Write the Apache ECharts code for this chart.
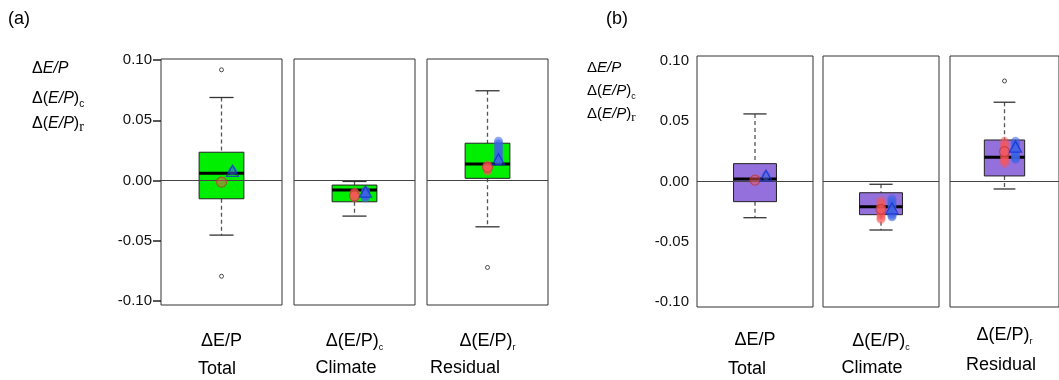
<!DOCTYPE html>
<html>
<head>
<meta charset="utf-8">
<script src="https://cdn.jsdelivr.net/npm/echarts@6/dist/echarts.min.js"></script>
<style>
html, body { margin: 0; padding: 0; background: #fff; }
#chart { width: 1059px; height: 380px; }
</style>
</head>
<body>
<div id="chart"></div>
<script>
const categories = ['ΔE/P', 'Δ(E/P)', 'Δ(E/P)'];
const subscripts = ['', 'c', 'r'];
const groupNames = ['Total', 'Climate', 'Residual'];
const yTicks = [-0.10, -0.05, 0.00, 0.05, 0.10];

// box stats per category: [min, Q1, median, Q3, max]
const boxA = [
	[-0.0454, -0.0152, 0.0060, 0.0235, 0.0690],
	[-0.0296, -0.0177, -0.0079, -0.0038, -0.0008],
	[-0.0385, 0.0018, 0.0138, 0.0310, 0.0746]
];
const outliersA = [[0.0920, -0.0796], [], [-0.0723]];
const pointsRedA = [
	[-0.0013],
	[-0.0096, -0.0105, -0.0115, -0.0127, -0.0135, -0.0143],
	[0.0129, 0.0118, 0.0108, 0.0098, 0.0088, 0.0079]
];
const pointsBlueA = [
	[0.0080],
	[-0.0085, -0.0095, -0.0105, -0.0115, -0.0125, -0.0135, -0.0143],
	[0.0327, 0.0305, 0.0285, 0.0265, 0.0245, 0.0225, 0.0205, 0.0185, 0.0170, 0.0157]
];
const meanRedA = [-0.0013, -0.0127, 0.0110];
const meanBlueA = [0.0080, -0.0093, 0.0177];

const boxB = [
	[-0.0300, -0.0167, 0.0020, 0.0148, 0.0560],
	[-0.0402, -0.0275, -0.0209, -0.0093, -0.0023],
	[-0.0062, 0.0046, 0.0200, 0.0344, 0.0657]
];
const outliersB = [[], [], [0.0833]];
const pointsRedB = [
	[0.0012],
	[-0.0159, -0.0180, -0.0200, -0.0220, -0.0240, -0.0260, -0.0280, -0.0300, -0.0313],
	[0.0333, 0.0310, 0.0290, 0.0270, 0.0250, 0.0230, 0.0210, 0.0190, 0.0170, 0.0151]
];
const pointsBlueB = [
	[0.0048],
	[-0.0145, -0.0165, -0.0185, -0.0205, -0.0225, -0.0245, -0.0265, -0.0280, -0.0292],
	[0.0333, 0.0310, 0.0290, 0.0270, 0.0250, 0.0230, 0.0210, 0.0195, 0.0184]
];
const meanRedB = [0.0012, -0.0230, 0.0247];
const meanBlueB = [0.0048, -0.0222, 0.0289];

const FONT = 'Liberation Sans';

const panels = [
	{
		box: boxA, out: outliersA, red: pointsRedA, blue: pointsBlueA, mRed: meanRedA, mBlue: meanBlueA,
		fill: '#00EE00', lefts: [161, 294, 427], width: 121, top: 59, height: 246, min: -0.1035, max: 0.101,
		axisTop: 60.2, axisHeight: 240.6, ticks: true, labelMargin: 9, xMargin: [27, 27, 27]
	},
	{
		box: boxB, out: outliersB, red: pointsRedB, blue: pointsBlueB, mRed: meanRedB, mBlue: meanBlueB,
		fill: '#9370DB', lefts: [697, 823, 950], width: 116, top: 56, height: 251, min: -0.104, max: 0.104,
		axisTop: 60.8, axisHeight: 241.3, ticks: false, labelMargin: 8, xMargin: [24, 25, 19]
	}
];

function renderBox(fill) {
	return function (params, api) {
		const c = api.value(0);
		const lo = api.coord([c, api.value(1)]);
		const q1 = api.coord([c, api.value(2)]);
		const md = api.coord([c, api.value(3)]);
		const q3 = api.coord([c, api.value(4)]);
		const hi = api.coord([c, api.value(5)]);
		const bw = api.size([1, 0])[0] * 0.37;
		const cap = bw * 0.27;
		const x = lo[0];
		const dash = { stroke: '#555', lineWidth: 1.3, lineDash: [4, 3] };
		const solid = { stroke: '#333', lineWidth: 1.3 };
		return {
			type: 'group',
			children: [
				{ type: 'line', shape: { x1: x, y1: hi[1], x2: x, y2: q3[1] }, style: dash },
				{ type: 'line', shape: { x1: x, y1: q1[1], x2: x, y2: lo[1] }, style: dash },
				{ type: 'line', shape: { x1: x - cap, y1: hi[1], x2: x + cap, y2: hi[1] }, style: solid },
				{ type: 'line', shape: { x1: x - cap, y1: lo[1], x2: x + cap, y2: lo[1] }, style: solid },
				{ type: 'rect', shape: { x: x - bw / 2, y: q3[1], width: bw, height: q1[1] - q3[1] }, style: { fill: fill, stroke: '#222', lineWidth: 1 } },
				{ type: 'line', shape: { x1: x - bw / 2, y1: md[1], x2: x + bw / 2, y2: md[1] }, style: { stroke: '#000', lineWidth: 3 } }
			]
		};
	};
}

const grid = [];
const xAxis = [];
const yAxis = [];
const series = [];

panels.forEach(function (p) {
	// axis-only grid carrying the tick labels
	const ai = grid.length;
	grid.push({ left: p.lefts[0], top: p.axisTop, width: p.width, height: p.axisHeight, show: false });
	xAxis.push({ gridIndex: ai, type: 'value', show: false });
	yAxis.push({
		gridIndex: ai, type: 'value', min: -0.1, max: 0.1, interval: 0.05,
		axisLine: { show: false },
		axisTick: { show: p.ticks, length: 8, lineStyle: { color: '#222', width: 1.5 } },
		splitLine: { show: false },
		axisLabel: {
			margin: p.labelMargin, color: '#111', fontFamily: FONT, fontSize: 15,
			formatter: function (v) { return v.toFixed(2); }
		}
	});

	for (let i = 0; i < 3; i++) {
		const gi = grid.length;
		grid.push({
			left: p.lefts[i], top: p.top, width: p.width, height: p.height,
			show: true, borderColor: '#333', borderWidth: 1, backgroundColor: 'transparent'
		});
		const sub = subscripts[i];
		xAxis.push({
			gridIndex: gi, type: 'category', data: [categories[i]],
			axisLine: { show: false }, axisTick: { show: false },
			axisLabel: {
				margin: p.xMargin[i],
				formatter: function (v) { return '{m|' + v + '}' + (sub ? '{s|' + sub + '}' : ''); },
				rich: {
					m: { fontFamily: FONT, fontSize: 18, color: '#000', verticalAlign: 'bottom', padding: [0, 0, 2, 0] },
					s: { fontFamily: FONT, fontSize: 9, color: '#000', verticalAlign: 'bottom' }
				}
			}
		});
		yAxis.push({ gridIndex: gi, type: 'value', min: p.min, max: p.max, show: false, splitLine: { show: false } });

		series.push({
			type: 'custom', xAxisIndex: gi, yAxisIndex: gi, z: 2,
			renderItem: renderBox(p.fill),
			encode: { x: 0, y: [1, 2, 3, 4, 5] },
			data: [[0].concat(p.box[i])]
		});
		series.push({
			type: 'scatter', xAxisIndex: gi, yAxisIndex: gi, z: 5,
			symbol: 'circle', symbolSize: 4,
			itemStyle: { color: '#fff', borderColor: '#222', borderWidth: 1 },
			data: p.out[i].map(function (v) { return [0, v]; }),
			markLine: {
				silent: true, symbol: 'none', z: 3, label: { show: false },
				lineStyle: { color: '#444', width: 1, type: 'solid' },
				data: [{ yAxis: 0 }]
			}
		});
		series.push({
			type: 'scatter', xAxisIndex: gi, yAxisIndex: gi, z: 4,
			symbol: 'circle', symbolSize: 9,
			itemStyle: { color: 'rgba(250,85,85,0.6)' },
			data: p.red[i].map(function (v) { return [0, v]; })
		});
		series.push({
			type: 'scatter', xAxisIndex: gi, yAxisIndex: gi, z: 4,
			symbol: 'circle', symbolSize: 9, symbolOffset: [11, 0],
			itemStyle: { color: 'rgba(60,100,230,0.7)' },
			data: p.blue[i].map(function (v) { return [0, v]; })
		});
		series.push({
			type: 'scatter', xAxisIndex: gi, yAxisIndex: gi, z: 6,
			symbol: 'circle', symbolSize: 10,
			itemStyle: { color: 'rgba(0,0,0,0)', borderColor: '#C03A3A', borderWidth: 1.2 },
			data: [[0, p.mRed[i]]]
		});
		series.push({
			type: 'scatter', xAxisIndex: gi, yAxisIndex: gi, z: 6,
			symbol: 'triangle', symbolSize: [12, 11], symbolOffset: [11, 0],
			itemStyle: { color: 'rgba(0,0,0,0)', borderColor: '#1530D0', borderWidth: 1.3 },
			data: [[0, p.mBlue[i]]]
		});
	}
});

const legendRich = {
	d: { fontFamily: FONT, fontSize: 16, color: '#000', verticalAlign: 'bottom', padding: [0, 0, 3, 0] },
	i: { fontFamily: FONT, fontSize: 16, fontStyle: 'italic', color: '#000', verticalAlign: 'bottom', padding: [0, 0, 3, 0] },
	s: { fontFamily: FONT, fontSize: 10, color: '#000', verticalAlign: 'bottom' },
	r: { fontFamily: 'Liberation Serif', fontSize: 14, color: '#000', verticalAlign: 'bottom' }
};
const legendRichB = {
	d: Object.assign({}, legendRich.d, { fontSize: 15 }),
	i: Object.assign({}, legendRich.i, { fontSize: 15 }),
	s: Object.assign({}, legendRich.s, { fontSize: 9 }),
	r: Object.assign({}, legendRich.r, { fontSize: 13 })
};
const legendTexts = ['{d|Δ}{i|E/P}', '{d|Δ(}{i|E/P}{d|)}{s|c}', '{d|Δ(}{i|E/P}{d|)}{r|r}'];

const graphic = [
	{ type: 'text', x: 8, y: 19, style: { text: '(a)', fontFamily: FONT, fontSize: 18, fill: '#000', verticalAlign: 'middle' } },
	{ type: 'text', x: 606, y: 19, style: { text: '(b)', fontFamily: FONT, fontSize: 18, fill: '#000', verticalAlign: 'middle' } }
];
[70, 100, 125].forEach(function (y, k) {
	graphic.push({ type: 'text', x: 32, y: y, style: { text: legendTexts[k], rich: legendRich, verticalAlign: 'middle' } });
});
[69, 92, 115].forEach(function (y, k) {
	graphic.push({ type: 'text', x: 587, y: y, style: { text: legendTexts[k], rich: legendRichB, verticalAlign: 'middle' } });
});
const nameX = [[217, 346, 465], [747, 872, 1001]];
const nameY = [[369, 368, 368], [369, 368, 365]];
nameX.forEach(function (row, pi) {
	row.forEach(function (x, i) {
		graphic.push({
			type: 'text', x: x, y: nameY[pi][i],
			style: { text: groupNames[i], fontFamily: FONT, fontSize: 18, fill: '#000', align: 'center', verticalAlign: 'middle' }
		});
	});
});

const chart = echarts.init(document.getElementById('chart'));
chart.setOption({
	animation: false,
	backgroundColor: '#fff',
	grid: grid,
	xAxis: xAxis,
	yAxis: yAxis,
	series: series,
	graphic: graphic
});
</script>
</body>
</html>
